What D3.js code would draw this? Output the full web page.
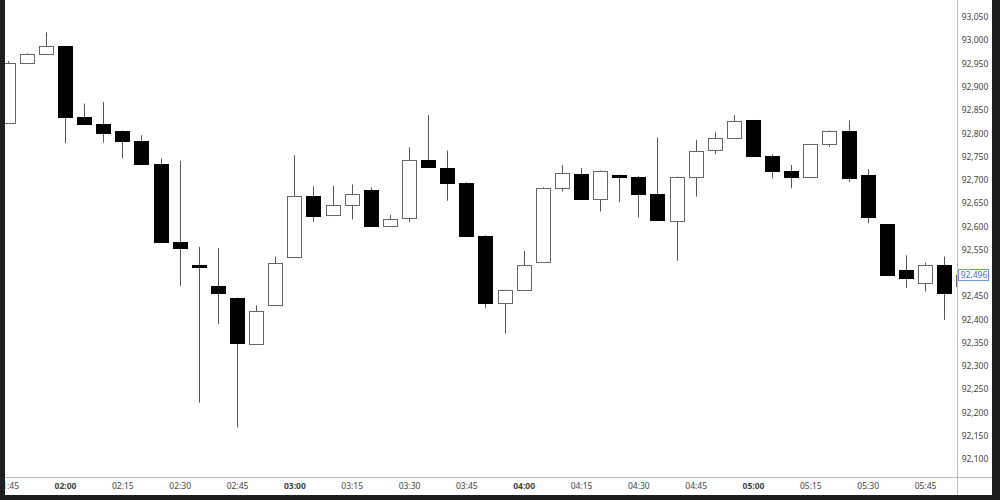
<!DOCTYPE html>
<meta charset="utf-8">
<script src="https://d3js.org/d3.v7.min.js"></script>
<style>
    body { margin: 0; background: white; }
    text { font-family: "Noto Sans", sans-serif; }
</style>
<div id="chart"></div>
<script>
// 5 minute bars
var times = ["01:45","01:50","01:55","02:00","02:05","02:10","02:15","02:20","02:25","02:30",
             "02:35","02:40","02:45","02:50","02:55","03:00","03:05","03:10","03:15","03:20",
             "03:25","03:30","03:35","03:40","03:45","03:50","03:55","04:00","04:05","04:10",
             "04:15","04:20","04:25","04:30","04:35","04:40","04:45","04:50","04:55","05:00",
             "05:05","05:10","05:15","05:20","05:25","05:30","05:35","05:40","05:45","05:50","05:55"];
var open  = [92824,92951,92970,92987,92834,92820,92805,92783,92734,92566,
             92517,92471,92446,92349,92430,92535,92666,92623,92645,92678,
             92601,92617,92742,92726,92694,92580,92435,92462,92524,92682,
             92713,92658,92711,92707,92670,92612,92708,92763,92790,92829,
             92751,92718,92705,92776,92805,92711,92605,92507,92478,92517,92472];
var high  = [92955,92972,93017,92988,92864,92867,92806,92796,92746,92741,
             92556,92553,92447,92430,92535,92753,92686,92687,92690,92684,
             92625,92770,92839,92763,92695,92581,92464,92547,92684,92732,
             92725,92720,92711,92708,92791,92707,92786,92802,92839,92829,
             92755,92732,92777,92806,92827,92723,92605,92538,92522,92535,92500];
var low   = [92820,92949,92969,92779,92819,92780,92746,92733,92565,92472,
             92221,92390,92168,92348,92429,92534,92609,92622,92615,92600,
             92600,92609,92726,92655,92579,92424,92370,92461,92523,92675,
             92659,92632,92652,92619,92613,92526,92664,92755,92789,92750,
             92703,92682,92705,92771,92695,92607,92495,92468,92460,92399,92470];
var close = [92952,92970,92987,92835,92820,92800,92784,92734,92566,92553,
             92515,92457,92349,92419,92521,92666,92622,92645,92669,92601,
             92616,92742,92727,92694,92580,92435,92463,92516,92683,92714,
             92660,92719,92706,92670,92614,92706,92763,92789,92827,92751,
             92718,92706,92776,92805,92705,92621,92496,92489,92516,92457,92496];

var timeTicks = ["01:45","02:00","02:15","02:30","02:45","03:00","03:15","03:30",
                 "03:45","04:00","04:15","04:30","04:45","05:00","05:15","05:30","05:45"];
var priceTicks = [92100,92150,92200,92250,92300,92350,92400,92450,92500,92550,92600,
                  92650,92700,92750,92800,92850,92900,92950,93000,93050];
var lastPrice = 92496;

var width = 1000, height = 500;
var parseT = d3.utcParse("%H:%M");

var svg = d3.select("#chart").append("svg")
    .attr("width", width)
    .attr("height", height);

svg.append("rect").attr("width", width).attr("height", height).attr("fill", "white");

// scales
var x = d3.scaleUtc()
    .domain([parseT("02:00"), parseT("05:45")])
    .range([65, 925]);
var y = d3.scaleLinear()
    .domain([92100, 93050])
    .range([459, 17]);

var bodyW = 14;

svg.append("clipPath").attr("id", "plotclip")
  .append("rect").attr("x", 0).attr("y", 0).attr("width", 957.5).attr("height", 477);

var plot = svg.append("g").attr("clip-path", "url(#plotclip)");

var bars = times.map(function(t, i) {
    return { t: parseT(t), o: open[i], h: high[i], l: low[i], c: close[i] };
});

// wicks
plot.selectAll(".wick")
    .data(bars)
    .enter()
    .append("line")
    .attr("class", "wick")
    .attr("x1", function(d) { return Math.round(x(d.t)) + 0.5; })
    .attr("x2", function(d) { return Math.round(x(d.t)) + 0.5; })
    .attr("y1", function(d) { return y(d.h); })
    .attr("y2", function(d) { return y(d.l); })
    .style("stroke", "#555")
    .style("stroke-width", 1);

// bodies
plot.selectAll(".body")
    .data(bars)
    .enter()
    .append("rect")
    .attr("class", "body")
    .attr("x", function(d) { return Math.round(x(d.t) - bodyW / 2) + 0.5; })
    .attr("y", function(d) { return Math.round(y(Math.max(d.o, d.c))) + 0.5; })
    .attr("width", bodyW)
    .attr("height", function(d) { return Math.max(2, Math.round(Math.abs(y(d.o) - y(d.c)))); })
    .style("fill", function(d) { return d.c >= d.o ? "white" : "black"; })
    .style("stroke", function(d) { return d.c >= d.o ? "#666" : "black"; })
    .style("stroke-width", 1);

// frame lines
svg.append("line").attr("x1", 0).attr("x2", 992).attr("y1", 477.5).attr("y2", 477.5)
    .style("stroke", "#bbb");
svg.append("line").attr("x1", 957.5).attr("x2", 957.5).attr("y1", 0).attr("y2", 495)
    .style("stroke", "#bbb");

// time axis
var xAxis = svg.append("g")
    .attr("transform", "translate(0,478)")
    .call(d3.axisBottom(x)
        .tickValues(timeTicks.map(parseT))
        .tickFormat(d3.utcFormat("%H:%M"))
        .tickSize(0)
        .tickPadding(5));
xAxis.select(".domain").remove();
xAxis.selectAll("text")
    .style("font-family", "'Noto Sans', sans-serif")
    .style("font-size", "8.5px")
    .style("fill", "#444")
    .style("font-weight", function(d) { return d.getUTCMinutes() === 0 ? "bold" : "normal"; });

// price axis
var yAxis = svg.append("g")
    .attr("transform", "translate(958,0)")
    .call(d3.axisRight(y)
        .tickValues(priceTicks)
        .tickFormat(d3.format(","))
        .tickSize(0)
        .tickPadding(17));
yAxis.select(".domain").remove();
yAxis.selectAll("text")
    .attr("text-anchor", "middle")
    .style("font-family", "'Noto Sans', sans-serif")
    .style("font-size", "8.5px")
    .style("fill", "#444");

// last price tag
var tag = svg.append("g");
tag.append("rect")
    .attr("x", 958.5).attr("y", Math.round(y(lastPrice)) - 5.5)
    .attr("width", 30).attr("height", 11)
    .style("fill", "white").style("stroke", "#6d98e0");
tag.append("text")
    .attr("x", 974).attr("y", y(lastPrice))
    .attr("dy", "0.35em")
    .attr("text-anchor", "middle")
    .style("font-size", "8.5px")
    .style("fill", "#3f6fc8")
    .text(d3.format(",")(lastPrice));

// dark window border
svg.append("rect").attr("x", 0).attr("y", 0).attr("width", 5).attr("height", height).attr("fill", "#1e1e1e");
svg.append("rect").attr("x", 992).attr("y", 0).attr("width", 8).attr("height", height).attr("fill", "#1e1e1e");
svg.append("rect").attr("x", 0).attr("y", 495).attr("width", width).attr("height", 5).attr("fill", "#1e1e1e");
</script>
